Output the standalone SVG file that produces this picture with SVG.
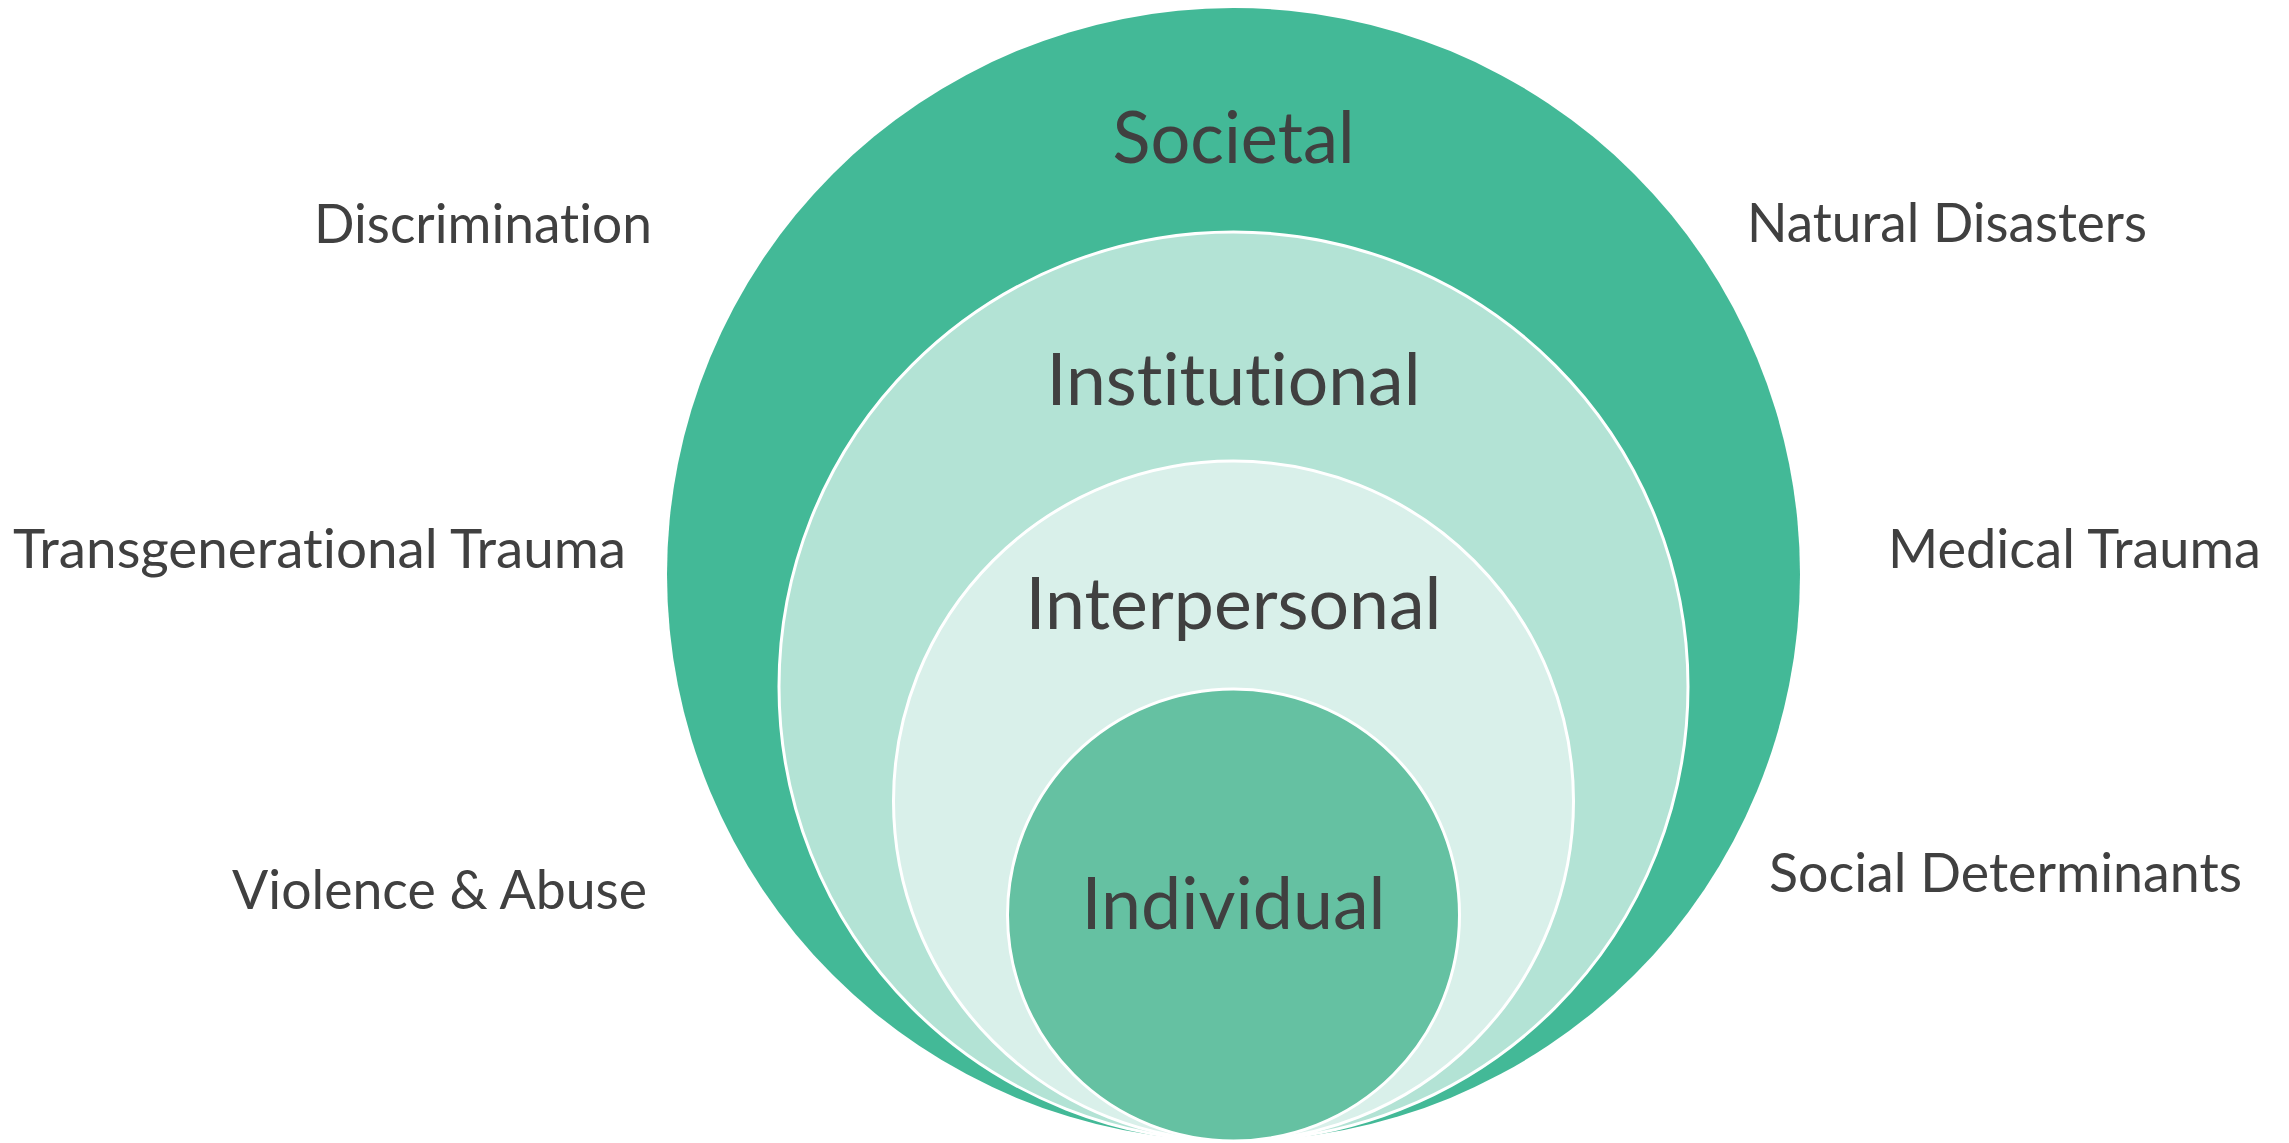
<svg xmlns="http://www.w3.org/2000/svg" width="2289" height="1143" viewBox="0 0 2289 1143">
<style>
.lbl{font-family:Lato,"Open Sans","Liberation Sans",sans-serif;fill:#404040;font-variant-ligatures:none;font-feature-settings:"liga" 0,"dlig" 0;}
.side{font-size:54px;}
.ctr{font-size:72px;text-anchor:middle;}
.ring{stroke:#FFFFFF;stroke-width:3;}
</style>
<rect width="2289" height="1143" fill="#FFFFFF"/>
<g id="connectors"></g>
<g id="societal">
<circle cx="1233.5" cy="574.5" r="566.5" fill="#43B997"/>
<text class="lbl ctr" x="1233.5" y="163" textLength="242" lengthAdjust="spacingAndGlyphs">Societal</text>
</g>
<g id="institutional">
<circle class="ring" cx="1233.5" cy="686.5" r="454.5" fill="#B3E3D5"/>
<text class="lbl ctr" x="1233.5" y="405" textLength="374" lengthAdjust="spacingAndGlyphs">Institutional</text>
</g>
<g id="interpersonal">
<circle class="ring" cx="1233.5" cy="801" r="340" fill="#D9F0EA"/>
<text class="lbl ctr" x="1233.5" y="629" textLength="416" lengthAdjust="spacingAndGlyphs">Interpersonal</text>
</g>
<g id="individual">
<circle class="ring" cx="1233.5" cy="915" r="226" fill="#65C1A2"/>
<text class="lbl ctr" x="1233.5" y="929" textLength="304" lengthAdjust="spacingAndGlyphs">Individual</text>
</g>
<g id="discrimination"><text class="lbl side" x="314" y="243" textLength="338" lengthAdjust="spacingAndGlyphs">Discrimination</text></g>
<g id="transgenerational-trauma"><text class="lbl side" x="13" y="568" textLength="613" lengthAdjust="spacingAndGlyphs">Transgenerational Trauma</text></g>
<g id="violence-abuse"><text class="lbl side" x="232" y="909" textLength="415" lengthAdjust="spacingAndGlyphs">Violence &amp; Abuse</text></g>
<g id="natural-disasters"><text class="lbl side" x="1747" y="242" textLength="400" lengthAdjust="spacingAndGlyphs">Natural Disasters</text></g>
<g id="medical-trauma"><text class="lbl side" x="1888" y="568" textLength="373" lengthAdjust="spacingAndGlyphs">Medical Trauma</text></g>
<g id="social-determinants"><text class="lbl side" x="1769" y="892" textLength="473" lengthAdjust="spacingAndGlyphs">Social Determinants</text></g>
</svg>
